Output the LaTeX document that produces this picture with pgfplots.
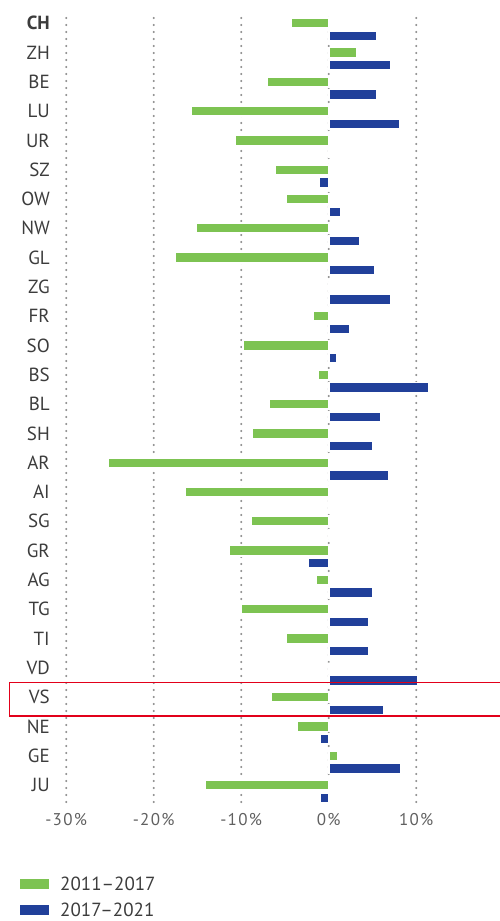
\documentclass[border=0pt]{standalone}
\usepackage{pgfplots}
\pgfplotsset{compat=1.18}
\usepackage{pgfplotstable}
\usepackage{fontspec}
\setmainfont{PT Sans}
\definecolor{grn}{HTML}{7DC352}
\definecolor{blu}{HTML}{21409A}
\definecolor{lbl}{HTML}{3C3C3C}
\definecolor{tck}{HTML}{606060}
\definecolor{grd}{HTML}{8A8A8A}
\definecolor{hl}{HTML}{E2001A}

% pos = row from bottom, a = 2011-2017, b = 2017-2021 (in %)
\pgfplotstableread{
pos a b
26 -4.34 5.49
25 3.28 7.16
24 -7.00 5.56
23 -15.73 8.08
22 -10.74 0
21 -6.13 -1.07
20 -4.91 1.45
19 -15.16 3.58
18 -17.52 5.30
17 0 7.16
16 -1.75 2.48
15 -9.75 0.95
14 -1.22 11.47
13 -6.78 5.98
12 -8.72 5.10
11 -25.26 6.90
10 -16.46 0.27
9 -8.84 0
8 -11.43 -2.36
7 -1.45 5.10
6 -9.98 4.57
5 -4.91 4.65
4 0 10.17
3 -6.55 6.29
2 -3.66 -0.99
1 1.10 8.30
0 -14.17 -0.99
}\data

\begin{document}
\begin{tikzpicture}
\begin{axis}[
  anchor=origin, at={(0,0)},
  x=8.75pt, y=29.3pt,
  xmin=-30.3, xmax=19.5,
  ymin=-0.58, ymax=26.38,
  xbar, bar width=10.1pt,
  axis line style={draw=none},
  tick style={draw=none},
  xtick={-30,-20,-10,0,10},
  xticklabels={-30\%,-20\%,-10\%,0\%,10\%},
  ytick={0,...,26},
  yticklabels={JU,GE,NE,VS,VD,TI,TG,AG,GR,SG,AI,AR,SH,BL,BS,SO,FR,ZG,GL,NW,OW,SZ,UR,LU,BE,ZH,\textbf{CH}},
  xticklabel style={font=\fontsize{17}{20}\selectfont\addfontfeatures{LetterSpace=8}, text=tck, yshift=-8pt},
  yticklabel style={font=\fontsize{19}{22}\selectfont, text=lbl, xshift=-6pt},
  xmajorgrids,
  major grid style={grd, line width=2.2pt, dash pattern=on 0pt off 7pt, line cap=round},
  clip=false,
]
\addplot[fill=grn, draw=white, line width=1.8pt, bar shift=0pt] table[x=a, y=pos] {\data};
\addplot[fill=blu, draw=white, line width=1.8pt, bar shift=-12.7pt] table[x=b, y=pos] {\data};
\end{axis}
\draw[hl, line width=1.5pt] (-319.4pt,69pt) rectangle (175pt,102.3pt);
\fill[grn] (-308.7pt,-94pt) rectangle (-279.7pt,-104pt);
\node[anchor=west, inner sep=0pt, text=lbl, font=\fontsize{19}{22}\selectfont] at (-268.7pt,-99pt) {2011–2017};
\fill[blu] (-308.7pt,-120pt) rectangle (-279.7pt,-130pt);
\node[anchor=west, inner sep=0pt, text=lbl, font=\fontsize{19}{22}\selectfont] at (-268.7pt,-125pt) {2017–2021};
\pgfresetboundingbox
\path (-328.7pt,-136pt) rectangle (171.3pt,785pt);
\end{tikzpicture}
\end{document}
